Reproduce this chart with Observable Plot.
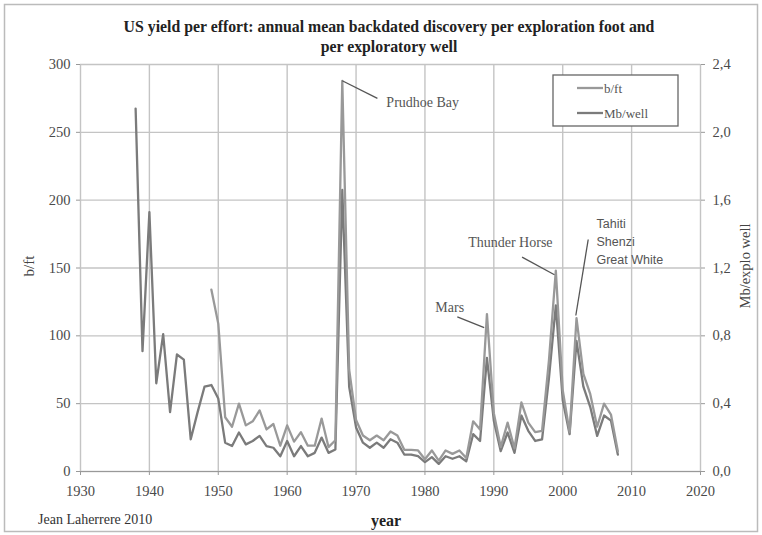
<!DOCTYPE html>
<html>
<head>
<meta charset="utf-8">
<script src="https://cdn.jsdelivr.net/npm/d3@7"></script>
<script src="https://cdn.jsdelivr.net/npm/@observablehq/plot@0.6"></script>
<style>
  html, body { margin: 0; padding: 0; background: #fff; }
  #chart { width: 762px; height: 535px; position: relative; }
</style>
</head>
<body>
<div id="chart"></div>
<script>
// ---- data ----
const mbYears = d3.range(1938, 2009);
// Mb per exploratory well (right axis)
const mbPerWell = [
  2.14, 0.71, 1.53, 0.52, 0.81, 0.35, 0.69, 0.66, 0.19, 0.35, 0.50, 0.51, 0.43,
  0.17, 0.15, 0.23, 0.16, 0.18, 0.21, 0.15, 0.14, 0.09, 0.18, 0.09, 0.15, 0.09,
  0.11, 0.20, 0.11, 0.13, 1.66, 0.50, 0.26, 0.17, 0.14, 0.17, 0.14, 0.19, 0.17,
  0.10, 0.10, 0.09, 0.055, 0.085, 0.045, 0.09, 0.075, 0.09, 0.06, 0.22, 0.18,
  0.67, 0.30, 0.12, 0.23, 0.11, 0.33, 0.24, 0.18, 0.19, 0.55, 0.98, 0.42, 0.22,
  0.77, 0.50, 0.38, 0.21, 0.33, 0.30, 0.10
];
const bftYears = d3.range(1949, 2009);
// barrels per exploration foot (left axis)
const bPerFoot = [
  134, 109, 40, 33, 50, 34, 37, 45, 31, 35, 19, 34, 22, 29, 19, 19, 39, 18, 23,
  288, 75, 38, 26.5, 23, 26.5, 23, 29.5, 26.5, 16, 16, 15.5, 9, 15.5, 8, 15.5,
  13, 15.5, 10, 37, 31, 116, 43, 18, 36, 17, 51, 36, 29, 30, 82, 148, 60, 29,
  113, 72, 57, 33, 50, 42, 15
];
const xTicks = d3.range(1930, 2021, 10);
const yTicks = d3.range(0, 301, 50);
const rightTicks = [0, 0.4, 0.8, 1.2, 1.6, 2.0, 2.4];
const ratio = 300 / 2.4; // left-axis units per right-axis unit

// annotations: label, the point it refers to, where the label and leader start sit
const notes = [
  {label: "Prudhoe Bay", year: 1968, value: 288, tx: 1974.4, ty: 272, lx: 1973.1, ly: 275, kind: "start"},
  {label: "Thunder Horse", year: 1998.8, value: 145, tx: 1992.4, ty: 169, lx: 1994.1, ly: 158, kind: "middle"},
  {label: "Mars", year: 1988.6, value: 106, tx: 1983.6, ty: 121, lx: 1984.7, ly: 114, kind: "middle"},
  {label: "Tahiti\nShenzi\nGreat White", year: 2001.9, value: 115, tx: 2004.9, ty: 189, lx: 2003.7, ly: 171, kind: "sans"}
];

const mbRows = mbYears.map((year, i) => ({year, v: mbPerWell[i]}));
const bftRows = bftYears.map((year, i) => ({year, v: bPerFoot[i]}));

const serif = "'Liberation Serif', 'Times New Roman', serif";
const sans = "'Liberation Sans', Arial, sans-serif";

const plot = Plot.plot({
  width: 762,
  height: 535,
  marginLeft: 80,
  marginRight: 62,
  marginTop: 64,
  marginBottom: 64,
  x: {domain: [1930, 2020]},
  y: {domain: [0, 300]},
  style: {fontFamily: serif, fontSize: "14.5px", color: "#4a4a4a", background: "white"},
  marks: [
    Plot.gridX(xTicks, {stroke: "#c4c4c4", strokeOpacity: 1, strokeWidth: 1.4}),
    Plot.gridY(yTicks, {stroke: "#c4c4c4", strokeOpacity: 1, strokeWidth: 1.4}),
    Plot.ruleY([0], {stroke: "#999", strokeWidth: 1.2}),
    Plot.axisX(xTicks, {tickFormat: d => String(d), tickSize: 4, tickPadding: 10, stroke: "#999", label: null}),
    Plot.axisY(yTicks, {anchor: "left", tickSize: 4, tickPadding: 6, stroke: "#999", label: null}),
    Plot.axisY(rightTicks.map(t => t * ratio), {anchor: "right", tickSize: 4, tickPadding: 8, stroke: "#999",
      tickFormat: d => (d / ratio).toFixed(1).replace(".", ","), label: null}),
    Plot.line(mbRows, {x: "year", y: d => d.v * ratio, stroke: "#7b7b7b", strokeWidth: 2.3, strokeLinejoin: "round"}),
    Plot.line(bftRows, {x: "year", y: "v", stroke: "#999", strokeWidth: 2.3, strokeLinejoin: "round"}),
    Plot.link(notes, {x1: "lx", y1: "ly", x2: "year", y2: "value", stroke: "#555", strokeWidth: 1.3}),
    Plot.text(notes.filter(d => d.kind === "start"), {x: "tx", y: "ty", text: "label", textAnchor: "start",
      fill: "#555", fontSize: 14, fontFamily: serif}),
    Plot.text(notes.filter(d => d.kind === "middle"), {x: "tx", y: "ty", text: "label", textAnchor: "middle",
      fill: "#555", fontSize: 14, fontFamily: serif}),
    Plot.text(notes.filter(d => d.kind === "sans"), {x: "tx", y: "ty", text: "label", textAnchor: "start",
      lineAnchor: "top", lineHeight: 1.45, fill: "#555", fontSize: 12.5, fontFamily: sans})
  ]
});

document.getElementById("chart").appendChild(plot);

// decoration: outer frame, titles, legend
const svg = d3.select(plot);
svg.insert("rect", ":first-child")
  .attr("x", 4.5).attr("y", 4.5).attr("width", 753).attr("height", 527)
  .attr("fill", "white").attr("stroke", "#bbb").attr("stroke-width", 1.5);

const title = ["US yield per effort: annual mean backdated discovery per exploration foot and", "per exploratory well"];
svg.append("g").selectAll("text").data(title).join("text")
  .attr("x", 389).attr("y", (d, i) => 32 + i * 20)
  .attr("text-anchor", "middle").attr("font-family", serif).attr("font-weight", "bold")
  .attr("font-size", 15.8).attr("fill", "#222").text(d => d);

svg.append("text").attr("transform", "translate(34,266) rotate(-90)")
  .attr("text-anchor", "middle").attr("font-family", serif).attr("font-size", 15).attr("fill", "#444").text("b/ft");
svg.append("text").attr("transform", "translate(750,266) rotate(-90)")
  .attr("text-anchor", "middle").attr("font-family", serif).attr("font-size", 14.5).attr("fill", "#444").text("Mb/explo well");
svg.append("text").attr("x", 386).attr("y", 526)
  .attr("text-anchor", "middle").attr("font-family", serif).attr("font-weight", "bold").attr("font-size", 16)
  .attr("fill", "#222").text("year");
svg.append("text").attr("x", 38).attr("y", 524).attr("text-anchor", "start")
  .attr("font-family", serif).attr("font-size", 14).attr("fill", "#333").text("Jean Laherrere 2010");

const legendItems = [{name: "b/ft", color: "#999"}, {name: "Mb/well", color: "#7b7b7b"}];
const lg = svg.append("g").attr("transform", "translate(553,75)");
lg.append("rect").attr("width", 125).attr("height", 51).attr("fill", "white").attr("stroke", "#666").attr("stroke-width", 1.3);
const li = lg.selectAll("g.item").data(legendItems).join("g").attr("class", "item")
  .attr("transform", (d, i) => `translate(0,${13 + i * 25})`);
li.append("line").attr("x1", 24).attr("x2", 50).attr("stroke", d => d.color).attr("stroke-width", 2.3);
li.append("text").attr("x", 51).attr("dy", "0.35em").attr("text-anchor", "start").attr("font-family", serif).attr("font-size", 13)
  .attr("fill", "#555").text(d => d.name);
</script>
</body>
</html>
